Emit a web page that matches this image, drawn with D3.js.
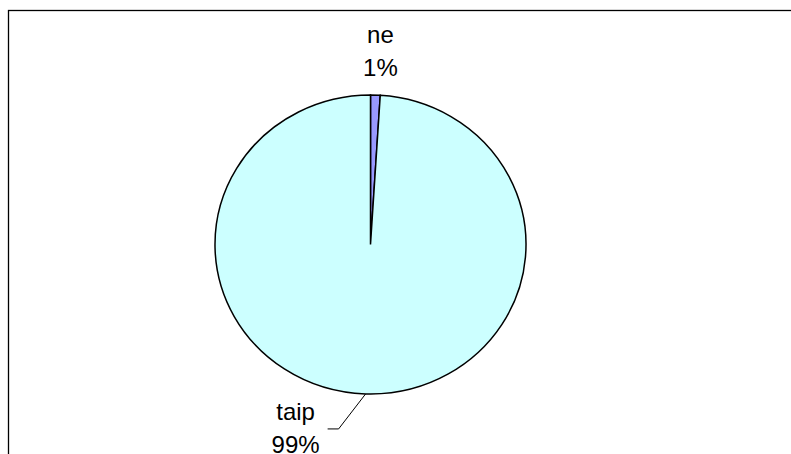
<!DOCTYPE html>
<html>
<head>
<meta charset="utf-8">
<script src="https://cdn.jsdelivr.net/npm/d3@7"></script>
<style>
  body { margin: 0; background: #fff; }
  svg text { font-family: "Liberation Sans", Arial, sans-serif; font-size: 24px; fill: #000; }
</style>
</head>
<body>
<svg id="chart" width="791" height="454"></svg>
<script>
// answers and their shares (%)
const labels = ["ne", "taip"];
const values = [1, 99];
const colors = ["#9999ff", "#ccffff"];

const svg = d3.select("#chart");

// chart frame (runs off the right and bottom of the window)
svg.append("rect")
    .attr("x", 8.5).attr("y", 10.5)
    .attr("width", 800).attr("height", 460)
    .attr("fill", "none")
    .attr("stroke", "#000")
    .attr("stroke-width", 1.3);

const cx = 370.5, cy = 244.5;
const rx = 155.5, ry = 149.5;
const sy = ry / rx;

let pie = d3.pie().sort(null).value(d => d);
let arcs = pie(values);

let arc = d3.arc().innerRadius(0).outerRadius(rx);

let group = svg.append("g")
    .attr("transform", "translate(" + cx + "," + cy + ") scale(1," + sy + ")");

group.selectAll("path.slice")
    .data(arcs)
  .enter().append("path")
    .attr("class", "slice")
    .attr("d", arc)
    .attr("fill", (d, i) => colors[i])
    .attr("stroke", "#000")
    .attr("stroke-width", 1.5)
    .attr("vector-effect", "non-scaling-stroke");

// point on the ellipse at a given angle
function pt(a) {
    return [cx + Math.sin(a) * rx, cy - Math.cos(a) * ry];
}

let labelGroup = svg.append("g");

arcs.forEach((d, i) => {
    let mid = (d.startAngle + d.endAngle) / 2;
    let pct = Math.round(d.value / d3.sum(values) * 100) + "%";
    let p = pt(mid);
    let lx, ly;
    if (i === 0) {
        lx = p[0] + 5; ly = p[1] - 52;
    } else {
        let elbow = [p[0] - 27, p[1] + 35];
        labelGroup.append("path")
            .attr("d", d3.line()([p, elbow, [elbow[0] - 11, elbow[1]]]))
            .attr("fill", "none")
            .attr("stroke", "#000")
            .attr("stroke-width", 1);
        lx = elbow[0] - 43; ly = elbow[1] - 9;
    }
    let t = labelGroup.append("text")
        .attr("x", lx).attr("y", ly)
        .attr("text-anchor", "middle");
    t.append("tspan").attr("x", lx).text(labels[i]);
    t.append("tspan").attr("x", lx).attr("dy", 33).text(pct);
});
</script>
</body>
</html>
